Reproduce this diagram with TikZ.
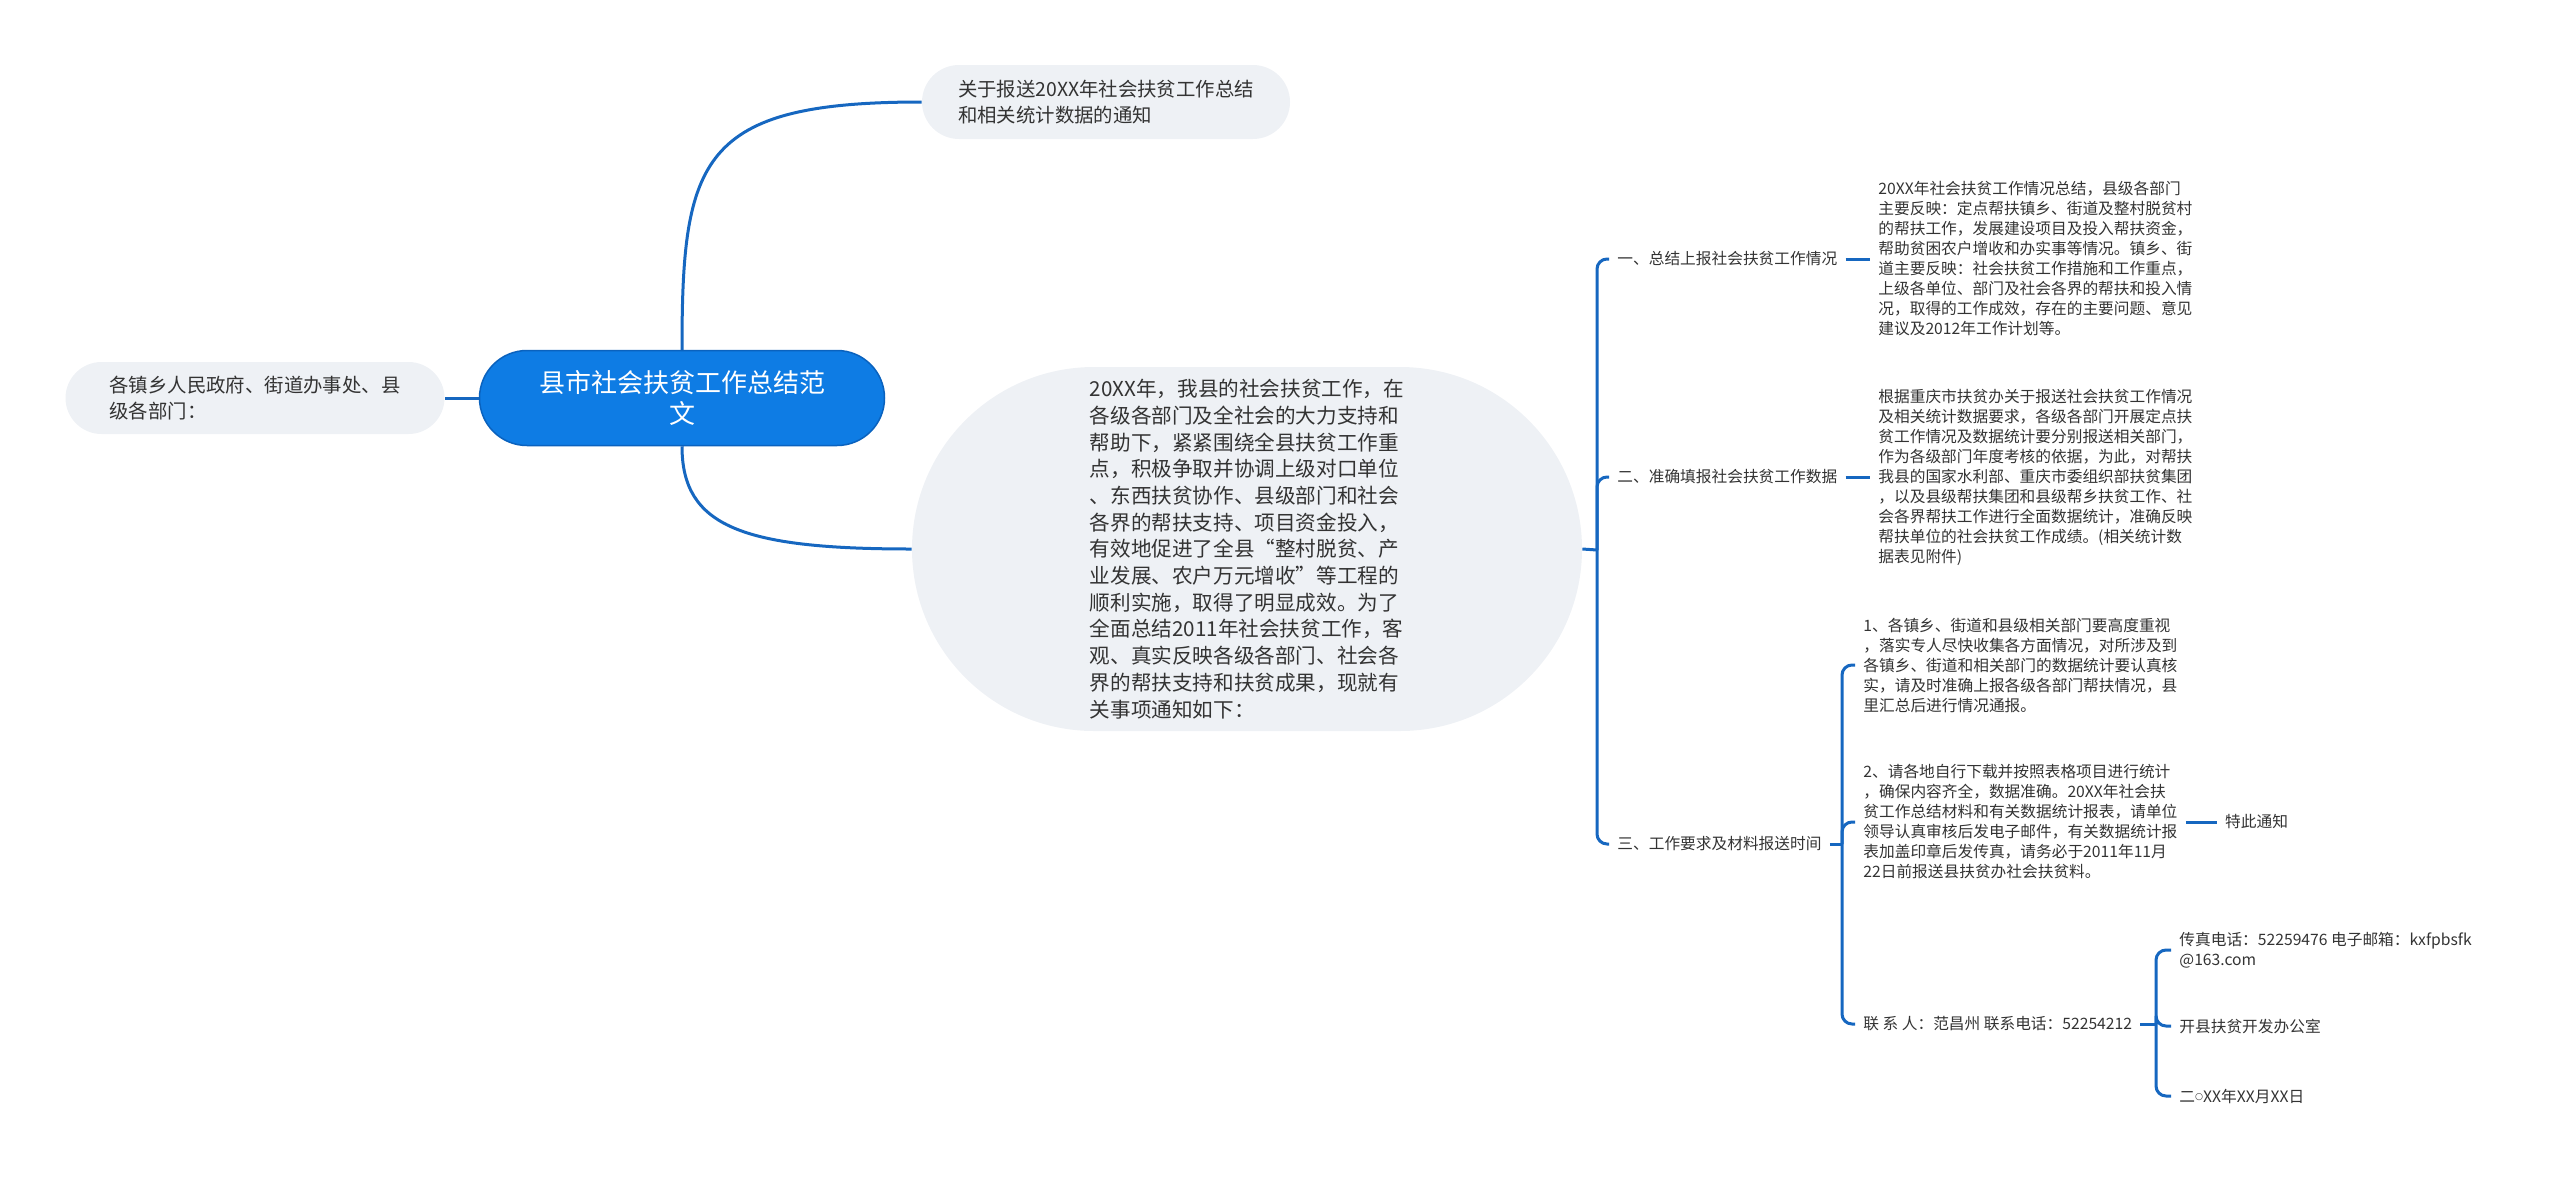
\documentclass[tikz,border=0pt]{standalone}
\usepackage{fontspec}
\setmainfont{Noto Sans CJK SC}
\newfontfamily\dotfont{DejaVu Sans}
\usetikzlibrary{positioning}

\definecolor{linecol}{RGB}{22,103,192}
\definecolor{rootblue}{RGB}{14,124,228}
\definecolor{rootedge}{RGB}{10,98,190}
\definecolor{pillgray}{RGB}{238,241,245}
\definecolor{txtcol}{RGB}{51,51,51}

\newcommand{\leaffont}{\fontsize{7.85pt}{10pt}\selectfont}
\newcommand{\pillfont}{\fontsize{9.7pt}{13pt}\selectfont}
\newcommand{\ellfont}{\fontsize{10.3pt}{13.35pt}\selectfont}
\newcommand{\rootfont}{\fontsize{13pt}{15.5pt}\selectfont}
\newcommand{\zeroring}{\raisebox{1.3pt}{\dotfont\fontsize{4.6pt}{5pt}\selectfont ○}}

\begin{document}
\begin{tikzpicture}[x=0.5pt, y=-0.5pt,
    branch/.style={draw=linecol, line width=1.5pt},
    bubble/.style={fill=pillgray, align=left, text=txtcol},
    leaf/.style={anchor=west, align=left, inner xsep=4pt, inner ysep=2pt, text=txtcol, font=\leaffont}]
    \useasboundingbox (0,0) rectangle (2560,1179);

    \node [draw=rootedge, line width=0.75pt, fill=rootblue, text=white, align=center, font=\rootfont,
      minimum width=202.5pt, minimum height=47.5pt, rounded corners=23.75pt] (root) at (682,398)
      {县市社会扶贫工作总结范\\文};

    \node [bubble, font=\pillfont, minimum width=189.5pt, minimum height=36pt, rounded corners=18pt] (left) at (255,398)
      {各镇乡人民政府、街道办事处、县\\级各部门：};

    \node [bubble, font=\pillfont, minimum width=184pt, minimum height=37pt, rounded corners=18.5pt] (top) at (1106,102)
      {关于报送20XX年社会扶贫工作总结\\和相关统计数据的通知};

    \node [bubble, font=\ellfont, minimum width=335pt, minimum height=182pt, rounded corners=91pt] (ell) at (1247,549)
      {20XX年，我县的社会扶贫工作，在\\各级各部门及全社会的大力支持和\\帮助下，紧紧围绕全县扶贫工作重\\点，积极争取并协调上级对口单位\\、东西扶贫协作、县级部门和社会\\各界的帮扶支持、项目资金投入，\\有效地促进了全县“整村脱贫、产\\业发展、农户万元增收”等工程的\\顺利实施，取得了明显成效。为了\\全面总结2011年社会扶贫工作，客\\观、真实反映各级各部门、社会各\\界的帮扶支持和扶贫成果，现就有\\关事项通知如下：};

    \coordinate (hub) at (1597,550);
    \node [leaf] (lab1) at (1609,259) {一、总结上报社会扶贫工作情况};
    \node [leaf] (lab2) at (1609,477) {二、准确填报社会扶贫工作数据};
    \node [leaf] (lab3) at (1609,844) {三、工作要求及材料报送时间};

    \node [leaf] (blk1) at (1870,259)
      {20XX年社会扶贫工作情况总结，县级各部门\\主要反映：定点帮扶镇乡、街道及整村脱贫村\\的帮扶工作，发展建设项目及投入帮扶资金，\\帮助贫困农户增收和办实事等情况。镇乡、街\\道主要反映：社会扶贫工作措施和工作重点，\\上级各单位、部门及社会各界的帮扶和投入情\\况，取得的工作成效，存在的主要问题、意见\\建议及2012年工作计划等。};
    \node [leaf] (blk2) at (1870,477)
      {根据重庆市扶贫办关于报送社会扶贫工作情况\\及相关统计数据要求，各级各部门开展定点扶\\贫工作情况及数据统计要分别报送相关部门，\\作为各级部门年度考核的依据，为此，对帮扶\\我县的国家水利部、重庆市委组织部扶贫集团\\，以及县级帮扶集团和县级帮乡扶贫工作、社\\会各界帮扶工作进行全面数据统计，准确反映\\帮扶单位的社会扶贫工作成绩。(相关统计数\\据表见附件)};

    \coordinate (hub3) at (1842,844);
    \node [leaf] (sub1) at (1855,665)
      {1、各镇乡、街道和县级相关部门要高度重视\\，落实专人尽快收集各方面情况，对所涉及到\\各镇乡、街道和相关部门的数据统计要认真核\\实，请及时准确上报各级各部门帮扶情况，县\\里汇总后进行情况通报。};
    \node [leaf] (sub2) at (1855,822)
      {2、请各地自行下载并按照表格项目进行统计\\，确保内容齐全，数据准确。20XX年社会扶\\贫工作总结材料和有关数据统计报表，请单位\\领导认真审核后发电子邮件，有关数据统计报\\表加盖印章后发传真，请务必于2011年11月\\22日前报送县扶贫办社会扶贫料。};
    \node [leaf] (sub3) at (1855,1024) {联 系 人：范昌州 联系电话：52254212};
    \node [leaf, right=15.5pt of sub2] (note) {特此通知};

    \coordinate (hub4) at (2156,1024);
    \node [leaf] (kid1) at (2171,950) {传真电话：52259476 电子邮箱：kxfpbsfk\\@163.com};
    \node [leaf] (kid2) at (2171,1026) {开县扶贫开发办公室};
    \node [leaf] (kid3) at (2171,1096) {二\zeroring XX年XX月XX日};

    \draw [branch] (root.west) -- (left.east);
    \draw [branch] (root.north) .. controls +(0,-191) and +(-222,0) .. (top.west);
    \draw [branch] (root.south) .. controls +(0,80) and +(-170,0) .. (ell.west);

    \draw [branch] (ell.east) -- (hub);
    \foreach \n in {lab1,lab2,lab3}
      \draw [branch, rounded corners=5pt] (hub) |- (\n.west);
    \draw [branch] (lab1.east) -- (blk1.west);
    \draw [branch] (lab2.east) -- (blk2.west);

    \draw [branch] (lab3.east) -- (hub3);
    \foreach \n in {sub1,sub2,sub3}
      \draw [branch, rounded corners=5pt] (hub3) |- (\n.west);
    \draw [branch] (sub2.east) -- (note.west);

    \draw [branch] (sub3.east) -- (hub4);
    \foreach \n in {kid1,kid2,kid3}
      \draw [branch, rounded corners=5pt] (hub4) |- (\n.west);
\end{tikzpicture}
\end{document}
